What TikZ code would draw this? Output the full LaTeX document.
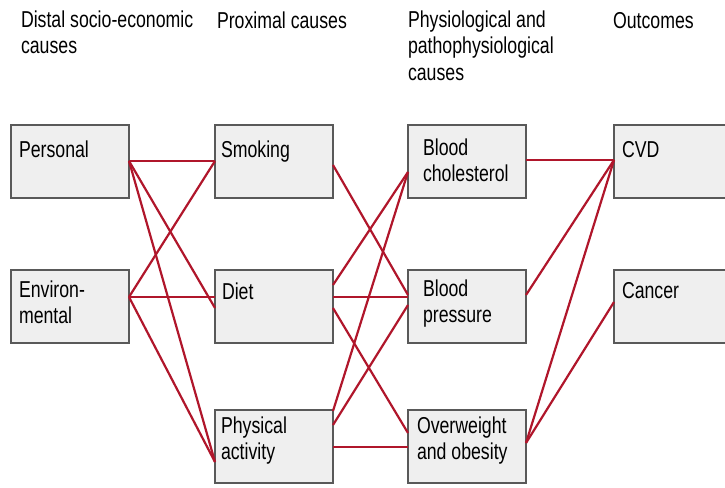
\documentclass[tikz,border=0pt]{standalone}
\usepackage{fontspec}
\setmainfont{Liberation Sans}[FakeStretch=0.77]
\definecolor{boxgray}{HTML}{595959}
\definecolor{boxfill}{HTML}{EFEFEF}
\definecolor{linkred}{HTML}{B0162B}
\begin{document}
\begin{tikzpicture}[x=1pt,y=-1pt,
  box/.style={draw=boxgray, fill=boxfill, line width=2.6pt, rectangle, inner sep=0pt, outer sep=0pt, anchor=north west},
  colbox/.style={box, minimum width=118pt, minimum height=73pt},
  outbox/.style={box, minimum width=150pt, minimum height=73pt},
  lbl/.style={anchor=north west, inner sep=0pt, outer sep=0pt, yshift=18.55pt, align=left, font=\fontsize{23}{26.5}\selectfont, execute at begin node=\strut},
  link/.style={draw=linkred, line width=2.2pt}]
\useasboundingbox (0,0) rectangle (725,487);
\clip (0,0) rectangle (725,487);
% headers
\node[lbl] (h1) at (21,29) {Distal socio-economic\\causes};
\node[lbl] (h2) at (217,29) {Proximal causes};
\node[lbl] (h3) at (408,29) {Physiological and\\pathophysiological\\causes};
\node[lbl] (h4) at (613,29) {Outcomes};
% boxes
\node[colbox] (per) at (11,125) {};
\node[colbox] (env) at (11,270) {};
\node[colbox] (smk) at (215,125) {};
\node[colbox] (diet) at (215,270) {};
\node[colbox] (pa) at (215,410) {};
\node[colbox] (bc) at (408,125) {};
\node[colbox] (bp) at (408,270) {};
\node[colbox] (ow) at (408,410) {};
\node[outbox] (cvd) at (614,125) {};
\node[outbox] (can) at (614,270) {};
% links
\draw[link] ([yshift=-36pt]per.north east) -- ([yshift=-36pt]smk.north west);
\draw[link] ([yshift=-36pt]per.north east) -- ([yshift=-38pt]diet.north west);
\draw[link] ([yshift=-36pt]per.north east) -- ([yshift=-52pt]pa.north west);
\draw[link] ([yshift=-27pt]env.north east) -- ([yshift=-36pt]smk.north west);
\draw[link] ([yshift=-27pt]env.north east) -- ([yshift=-27pt]diet.north west);
\draw[link] ([yshift=-27pt]env.north east) -- ([yshift=-52pt]pa.north west);
\draw[link] ([yshift=-40pt]smk.north east) -- ([yshift=-25pt]bp.north west);
\draw[link] ([yshift=-15pt]diet.north east) -- ([yshift=-47pt]bc.north west);
\draw[link] ([yshift=-27pt]diet.north east) -- ([yshift=-27pt]bp.north west);
\draw[link] ([yshift=-38pt]diet.north east) -- ([yshift=-23pt]ow.north west);
\draw[link] ([yshift=-1pt]pa.north east) -- ([yshift=-47pt]bc.north west);
\draw[link] ([yshift=-15pt]pa.north east) -- ([yshift=-35pt]bp.north west);
\draw[link] ([yshift=-37pt]pa.north east) -- ([yshift=-37pt]ow.north west);
\draw[link] ([yshift=-35pt]bc.north east) -- ([yshift=-35pt]cvd.north west);
\draw[link] ([yshift=-25pt]bp.north east) -- ([yshift=-35pt]cvd.north west);
\draw[link] ([yshift=-33pt]ow.north east) -- ([yshift=-35pt]cvd.north west);
\draw[link] ([yshift=-33pt]ow.north east) -- ([yshift=-32pt]can.north west);
% labels
\node[lbl] (tper) at (19,157) {Personal};
\node[lbl] (tenv) at (19,299) {Environ-\\mental};
\node[lbl] (tsmk) at (221,157) {Smoking};
\node[lbl] (tdiet) at (222,299) {Diet};
\node[lbl] (tpa) at (221,435) {Physical\\activity};
\node[lbl] (tbc) at (423,157) {Blood\\cholesterol};
\node[lbl] (tbp) at (423,298) {Blood\\pressure};
\node[lbl] (tow) at (417,435) {Overweight\\and obesity};
\node[lbl] (tcvd) at (622,157) {CVD};
\node[lbl] (tcan) at (622,298) {Cancer};
\end{tikzpicture}
\end{document}
